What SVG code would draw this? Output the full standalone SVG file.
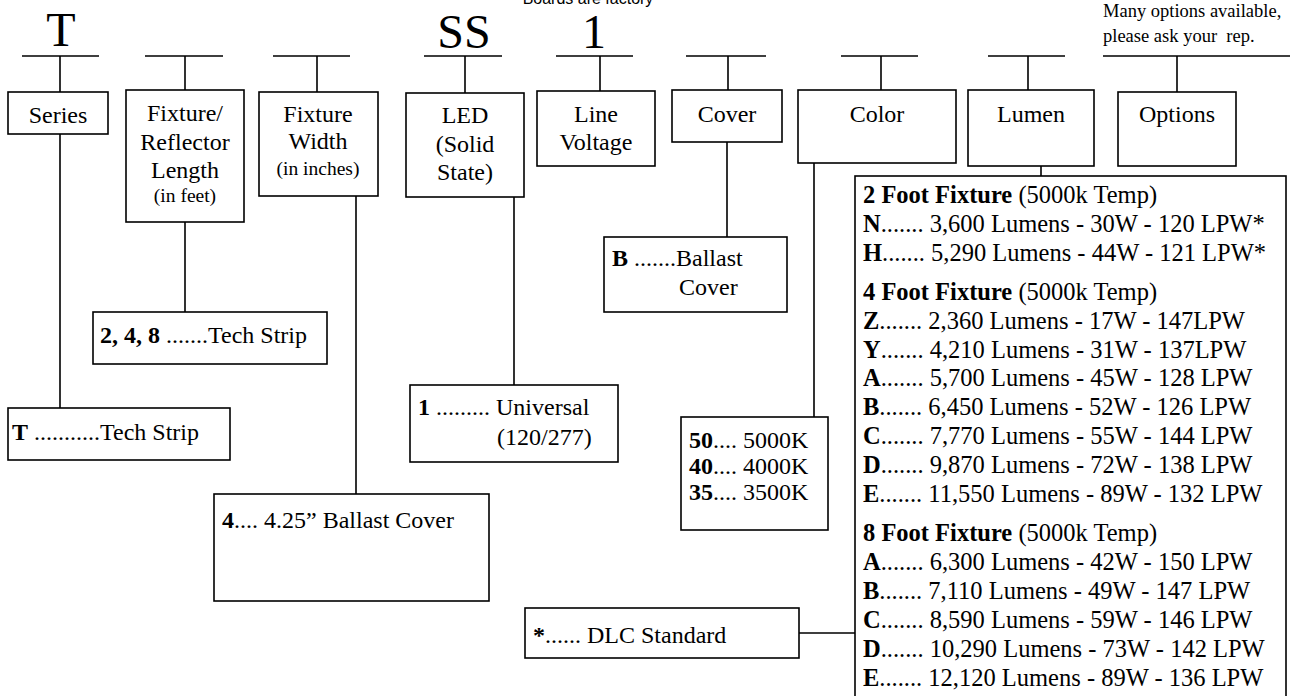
<svg xmlns="http://www.w3.org/2000/svg" width="1290" height="696" viewBox="0 0 1290 696">
<style>
text{font-family:"Liberation Serif","Times New Roman",serif;fill:#000}
.big{font-size:48px;text-anchor:middle}
.lbl{font-size:24px;text-anchor:middle}
.sub{font-size:19.5px;text-anchor:middle}
.val{font-size:24px}
.lst{font-size:24.5px}
.note{font-size:18.5px}
.b{font-weight:bold}
.box{fill:#fff;stroke:#000;stroke-width:1.6}
.ln{stroke:#000;stroke-width:1.6;fill:none}
</style>
<rect width="1290" height="696" fill="#fff"/>
<text x="588" y="4" style="font-family:'Liberation Sans',Arial,sans-serif;font-size:16px;text-anchor:middle">Boards are factory</text>
<g id="codes">
<text class="big" x="61" y="46">T</text>
<text class="big" x="464" y="48">SS</text>
<text class="big" x="594" y="48">1</text>
<text class="note" x="1103" y="17">Many options available,</text>
<text class="note" x="1103" y="42" xml:space="preserve">please ask your  rep.</text>
</g>
<g id="connectors">
<path class="ln" d="M22 56H99M60 56V92M145 56H223M185 56V90M273 56H350M317 56V92M424 56H502M465 56V93M556 56H633M600 56V91M686 56H766M728 56V90M841 56H918M881 56V90M988 56H1065M1028 56V90M1103 56H1290M1177 56V92"/>
<path class="ln" d="M60 134V408M185 222V312M356 196V494M514 197V385M727 142V237M814 163V417M1041 166V176M799 633H855"/>
</g>
<g id="series"><rect class="box" x="8" y="92" width="100" height="42"/><text class="lbl" x="58" y="123">Series</text></g>
<g id="length"><rect class="box" x="126" y="90" width="118" height="132"/><text class="lbl" x="185" y="121">Fixture/</text><text class="lbl" x="185" y="150">Reflector</text><text class="lbl" x="185" y="178">Length</text><text class="sub" x="185" y="202">(in feet)</text></g>
<g id="width"><rect class="box" x="259" y="92" width="119" height="104"/><text class="lbl" x="318" y="122">Fixture</text><text class="lbl" x="318" y="149">Width</text><text class="sub" x="318" y="175">(in inches)</text></g>
<g id="led"><rect class="box" x="406" y="93" width="118" height="104"/><text class="lbl" x="465" y="123">LED</text><text class="lbl" x="465" y="152">(Solid</text><text class="lbl" x="465" y="180">State)</text></g>
<g id="voltage"><rect class="box" x="537" y="91" width="118" height="75"/><text class="lbl" x="596" y="122">Line</text><text class="lbl" x="596" y="150">Voltage</text></g>
<g id="cover"><rect class="box" x="672" y="90" width="110" height="52"/><text class="lbl" x="727" y="122">Cover</text></g>
<g id="color"><rect class="box" x="798" y="90" width="158" height="73"/><text class="lbl" x="877" y="122">Color</text></g>
<g id="lumen"><rect class="box" x="968" y="90" width="126" height="76"/><text class="lbl" x="1031" y="122">Lumen</text></g>
<g id="options"><rect class="box" x="1118" y="92" width="118" height="74"/><text class="lbl" x="1177" y="122">Options</text></g>
<g id="length-values"><rect class="box" x="93" y="312" width="234" height="52"/><text class="val" x="100" y="343" xml:space="preserve"><tspan class="b">2, 4, 8</tspan> .......Tech Strip</text></g>
<g id="series-values"><rect class="box" x="8" y="408" width="222" height="52"/><text class="val" x="12" y="440" xml:space="preserve"><tspan class="b">T</tspan> ...........Tech Strip</text></g>
<g id="voltage-values"><rect class="box" x="410" y="385" width="208" height="77"/><text class="val" x="418" y="415" xml:space="preserve"><tspan class="b">1</tspan> ......... Universal</text><text class="val" x="497" y="445">(120/277)</text></g>
<g id="cover-values"><rect class="box" x="604" y="237" width="183" height="75"/><text class="val" x="612" y="266" xml:space="preserve"><tspan class="b">B</tspan> .......Ballast</text><text class="val" x="679" y="295">Cover</text></g>
<g id="color-values"><rect class="box" x="681" y="417" width="147" height="113"/><text class="val" x="689" y="448"><tspan class="b">50</tspan>.... 5000K</text><text class="val" x="689" y="474"><tspan class="b">40</tspan>.... 4000K</text><text class="val" x="689" y="500"><tspan class="b">35</tspan>.... 3500K</text></g>
<g id="width-values"><rect class="box" x="214" y="494" width="275" height="107"/><text class="val" x="222" y="528"><tspan class="b">4</tspan>.... 4.25” Ballast Cover</text></g>
<g id="dlc"><rect class="box" x="525" y="608" width="274" height="50"/><text class="val" x="533" y="643"><tspan class="b">*</tspan>...... DLC Standard</text></g>
<g id="lumen-values"><rect class="box" x="855" y="176" width="431" height="524"/>
<text class="lst" x="863" y="203"><tspan class="b">2 Foot Fixture</tspan> (5000k Temp)</text>
<text class="lst" x="863" y="232"><tspan class="b">N</tspan>....... 3,600 Lumens - 30W - 120 LPW*</text>
<text class="lst" x="863" y="261"><tspan class="b">H</tspan>....... 5,290 Lumens - 44W - 121 LPW*</text>
<text class="lst" x="863" y="300"><tspan class="b">4 Foot Fixture</tspan> (5000k Temp)</text>
<text class="lst" x="863" y="329"><tspan class="b">Z</tspan>....... 2,360 Lumens - 17W - 147LPW</text>
<text class="lst" x="863" y="358"><tspan class="b">Y</tspan>....... 4,210 Lumens - 31W - 137LPW</text>
<text class="lst" x="863" y="386"><tspan class="b">A</tspan>....... 5,700 Lumens - 45W - 128 LPW</text>
<text class="lst" x="863" y="415"><tspan class="b">B</tspan>....... 6,450 Lumens - 52W - 126 LPW</text>
<text class="lst" x="863" y="444"><tspan class="b">C</tspan>....... 7,770 Lumens - 55W - 144 LPW</text>
<text class="lst" x="863" y="473"><tspan class="b">D</tspan>....... 9,870 Lumens - 72W - 138 LPW</text>
<text class="lst" x="863" y="502"><tspan class="b">E</tspan>....... 11,550 Lumens - 89W - 132 LPW</text>
<text class="lst" x="863" y="541"><tspan class="b">8 Foot Fixture</tspan> (5000k Temp)</text>
<text class="lst" x="863" y="570"><tspan class="b">A</tspan>....... 6,300 Lumens - 42W - 150 LPW</text>
<text class="lst" x="863" y="599"><tspan class="b">B</tspan>....... 7,110 Lumens - 49W - 147 LPW</text>
<text class="lst" x="863" y="628"><tspan class="b">C</tspan>....... 8,590 Lumens - 59W - 146 LPW</text>
<text class="lst" x="863" y="657"><tspan class="b">D</tspan>....... 10,290 Lumens - 73W - 142 LPW</text>
<text class="lst" x="863" y="686"><tspan class="b">E</tspan>....... 12,120 Lumens - 89W - 136 LPW</text>
</g>
</svg>
